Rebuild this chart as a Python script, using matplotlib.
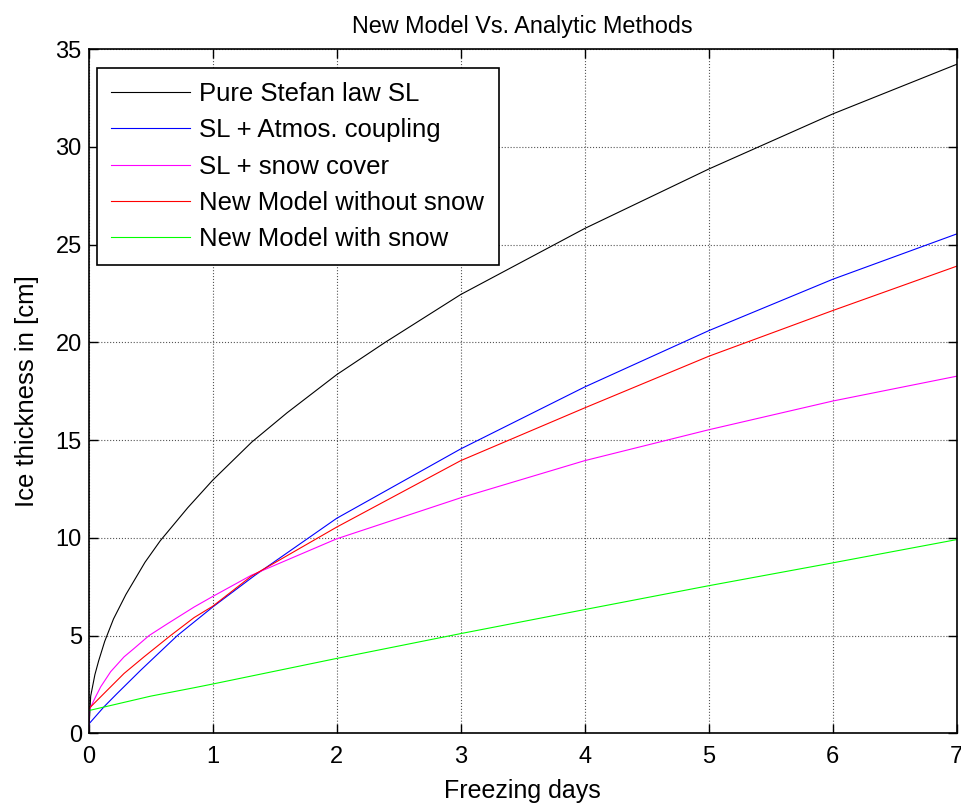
import matplotlib
matplotlib.use("Agg")
import matplotlib.pyplot as plt

# readings from the reference (freezing days, ice thickness in cm)
x_stefan = [0, 0.016, 0.05, 0.08, 0.129, 0.2, 0.30, 0.454, 0.577, 0.8, 1.0, 1.315, 1.6, 2.0, 2.39, 3.0, 4.0, 5.0, 6.0, 7.0]
y_stefan = [0, 1.9, 3.0, 3.7, 4.7, 5.85, 7.1, 8.75, 9.85, 11.55, 12.95, 14.9, 16.4, 18.35, 20.0, 22.45, 25.83, 28.87, 31.69, 34.23]

x_atmos = [0, 0.005, 0.124, 0.23, 0.42, 0.715, 1.0, 1.34, 2.0, 3.0, 4.0, 5.0, 6.0, 7.0]
y_atmos = [0.35, 0.5, 1.36, 2.04, 3.23, 5.0, 6.46, 8.08, 11.0, 14.55, 17.72, 20.6, 23.23, 25.55]

x_snow = [0, 0.005, 0.056, 0.097, 0.177, 0.285, 0.366, 0.487, 0.634, 0.85, 1.0, 1.31, 2.0, 3.0, 4.0, 5.0, 6.0, 7.0]
y_snow = [0, 1.19, 1.87, 2.38, 3.15, 3.91, 4.34, 5.0, 5.6, 6.46, 7.0, 8.08, 9.95, 12.05, 13.95, 15.53, 17.0, 18.27]

x_new = [0, 0.124, 0.285, 0.446, 0.66, 0.85, 1.0, 1.31, 2.0, 3.0, 4.0, 5.0, 6.0, 7.0]
y_new = [1.25, 2.04, 3.06, 3.91, 5.0, 5.92, 6.5, 8.03, 10.55, 13.95, 16.65, 19.29, 21.63, 23.9]

x_new_snow = [0, 0.23, 0.5, 0.85, 1.0, 2.0, 3.0, 4.0, 5.0, 6.0, 7.0]
y_new_snow = [1.16, 1.5, 1.9, 2.33, 2.52, 3.83, 5.1, 6.33, 7.55, 8.72, 9.91]

labels = ["Pure Stefan law SL", "SL + Atmos. coupling", "SL + snow cover",
          "New Model without snow", "New Model with snow"]
colors = ["#000000", "#0000ff", "#ff00ff", "#ff0000", "#00ff00"]

plt.rcParams['font.family'] = ['Liberation Sans', 'DejaVu Sans']

fig = plt.figure(figsize=(9.62, 8.05), dpi=100)
ax = fig.add_axes([0.0922, 0.0891, 0.9023, 0.8497])

series = [(x_stefan, y_stefan), (x_atmos, y_atmos), (x_snow, y_snow),
          (x_new, y_new), (x_new_snow, y_new_snow)]
for (xs, ys), lab, col in zip(series, labels, colors):
    ax.plot(xs, ys, color=col, linewidth=0.8, label=lab)

ax.set_xlim(0, 7)
ax.set_ylim(0, 35)
ax.set_xticks(range(0, 8))
ax.set_yticks(range(0, 36, 5))
ax.grid(True, color='#555555', linestyle=':', linewidth=0.8)
ax.tick_params(direction='in', top=True, right=True, length=6.5, width=1.0,
               labelsize=17)
ax.tick_params(axis='x', pad=9)
ax.tick_params(axis='y', pad=5)
for sp in ax.spines.values():
    sp.set_linewidth(1.2)

ax.set_xlabel("Freezing days", fontsize=18, labelpad=8)
ax.set_ylabel("Ice thickness in [cm]", fontsize=18.5, labelpad=12)
ax.set_title("New Model Vs. Analytic Methods", fontsize=16.8, pad=12)

leg = ax.legend(loc='upper left', bbox_to_anchor=(0.0092, 0.973), borderaxespad=0,
                fontsize=18.5, handlelength=3.1, handletextpad=0.35,
                borderpad=0.55, labelspacing=0.48, fancybox=False, framealpha=1)
leg.get_frame().set_edgecolor('k')
leg.get_frame().set_linewidth(1.2)

fig.savefig("out.png", dpi=100)
plt.close(fig)
